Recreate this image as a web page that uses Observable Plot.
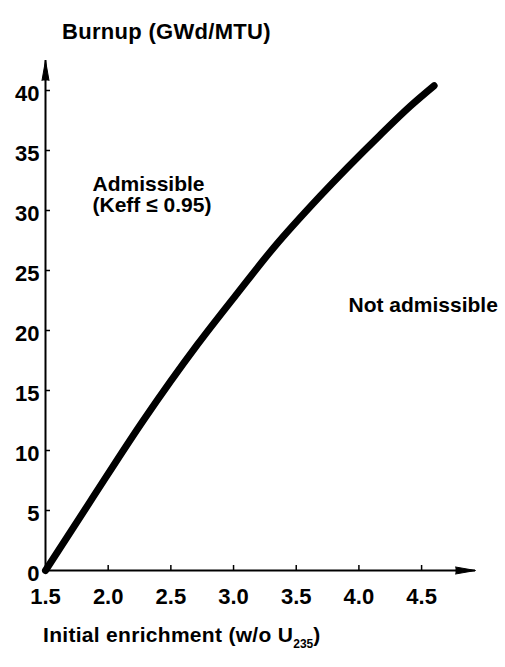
<!DOCTYPE html>
<html>
<head>
<meta charset="utf-8">
<script src="https://cdn.jsdelivr.net/npm/d3@7"></script>
<script src="https://cdn.jsdelivr.net/npm/@observablehq/plot@0.6"></script>
<style>
  html, body { margin: 0; padding: 0; background: #fff; }
  #wrap { position: relative; width: 505px; height: 667px; overflow: hidden; background: #fff;
    font-family: "Liberation Sans", Arial, sans-serif; font-weight: bold; color: #000; }
  #title { position: absolute; left: 62px; top: 21px; font-size: 22px; line-height: 22px; letter-spacing: 0.3px; white-space: nowrap; }
  #xlabel { position: absolute; left: 43px; top: 624px; font-size: 21px; line-height: 21px; letter-spacing: 0.3px; white-space: nowrap; }
  #xlabel sub { font-size: 12px; vertical-align: -6px; letter-spacing: 0; }
  #chart { position: absolute; left: 0; top: 50px; }
</style>
</head>
<body>
<div id="wrap">
  <div id="title">Burnup (GWd/MTU)</div>
  <div id="chart"></div>
  <div id="xlabel">Initial enrichment (w/o U<sub>235</sub>)</div>
</div>
<script>
// Limit curve: initial enrichment (w/o U235) vs burnup (GWd/MTU)
const enrichment = [1.5, 1.86, 2.28, 2.71, 3.03, 3.32, 3.69, 4.17, 4.41, 4.6];
const burnup     = [0.0, 5.8, 12.5, 18.8, 23.1, 26.9, 31.2, 36.3, 38.7, 40.4];

const xTicks = [1.5, 2.0, 2.5, 3.0, 3.5, 4.0, 4.5];
const yTicks = [0, 5, 10, 15, 20, 25, 30, 35, 40];

const annText = ["Admissible\n(Keff \u2264 0.95)", "Not admissible"];
const annX = [1.875, 3.917];
const annY = [32.9, 22.75];

const FONT = '"Liberation Sans", Arial, sans-serif';

const curve = enrichment.map((e, i) => ({e, b: burnup[i]}));

const plot = Plot.plot({
  width: 505,
  height: 570,
  marginLeft: 45,
  marginRight: 30,
  marginTop: 10,
  marginBottom: 50,
  style: {fontFamily: FONT, fontSize: "22px", fontWeight: "bold", color: "black", background: "white", overflow: "visible"},
  x: {domain: [1.5, 4.93]},
  y: {domain: [0, 42.5]},
  marks: [
    // axis lines
    Plot.ruleY([0], {stroke: "black", strokeWidth: 2}),
    Plot.ruleX([1.5], {stroke: "black", strokeWidth: 2}),
    // arrowheads
    Plot.vector([0], {frameAnchor: "top-left", length: 20, r: 3.5, shape: "spike", anchor: "end", rotate: 0, fill: "black", fillOpacity: 1, stroke: "black", strokeWidth: 1}),
    Plot.vector([0], {frameAnchor: "bottom-right", length: 20, r: 3.5, shape: "spike", anchor: "end", rotate: 90, fill: "black", fillOpacity: 1, stroke: "black", strokeWidth: 1}),
    // tick marks (inside)
    Plot.axisX(xTicks.slice(1), {tickSize: 5, dy: -5, fill: "none", stroke: "black", strokeWidth: 1.5, label: null}),
    Plot.axisY(yTicks.slice(1), {tickSize: 5, dx: 5, fill: "none", stroke: "black", strokeWidth: 1.5, label: null}),
    // tick labels
    Plot.axisX(xTicks, {tickSize: 0, tickPadding: 18, tickFormat: d => d.toFixed(1), label: null, fontSize: 22}),
    Plot.axisY(yTicks, {tickSize: 0, tickPadding: 6, dy: 3, tickFormat: d => String(d), label: null, fontSize: 22}),
    // the curve
    Plot.line(curve, {x: "e", y: "b", stroke: "black", strokeWidth: 7, curve: "monotone-x", strokeLinecap: "round", strokeLinejoin: "round"}),
    // region annotations
    Plot.text(annText, {x: (d, i) => annX[i], y: (d, i) => annY[i], text: d => d, textAnchor: "start", lineAnchor: "top", fontSize: 21, lineHeight: 1.0, fill: "black"})
  ]
});

document.getElementById("chart").appendChild(plot);
</script>
</body>
</html>
